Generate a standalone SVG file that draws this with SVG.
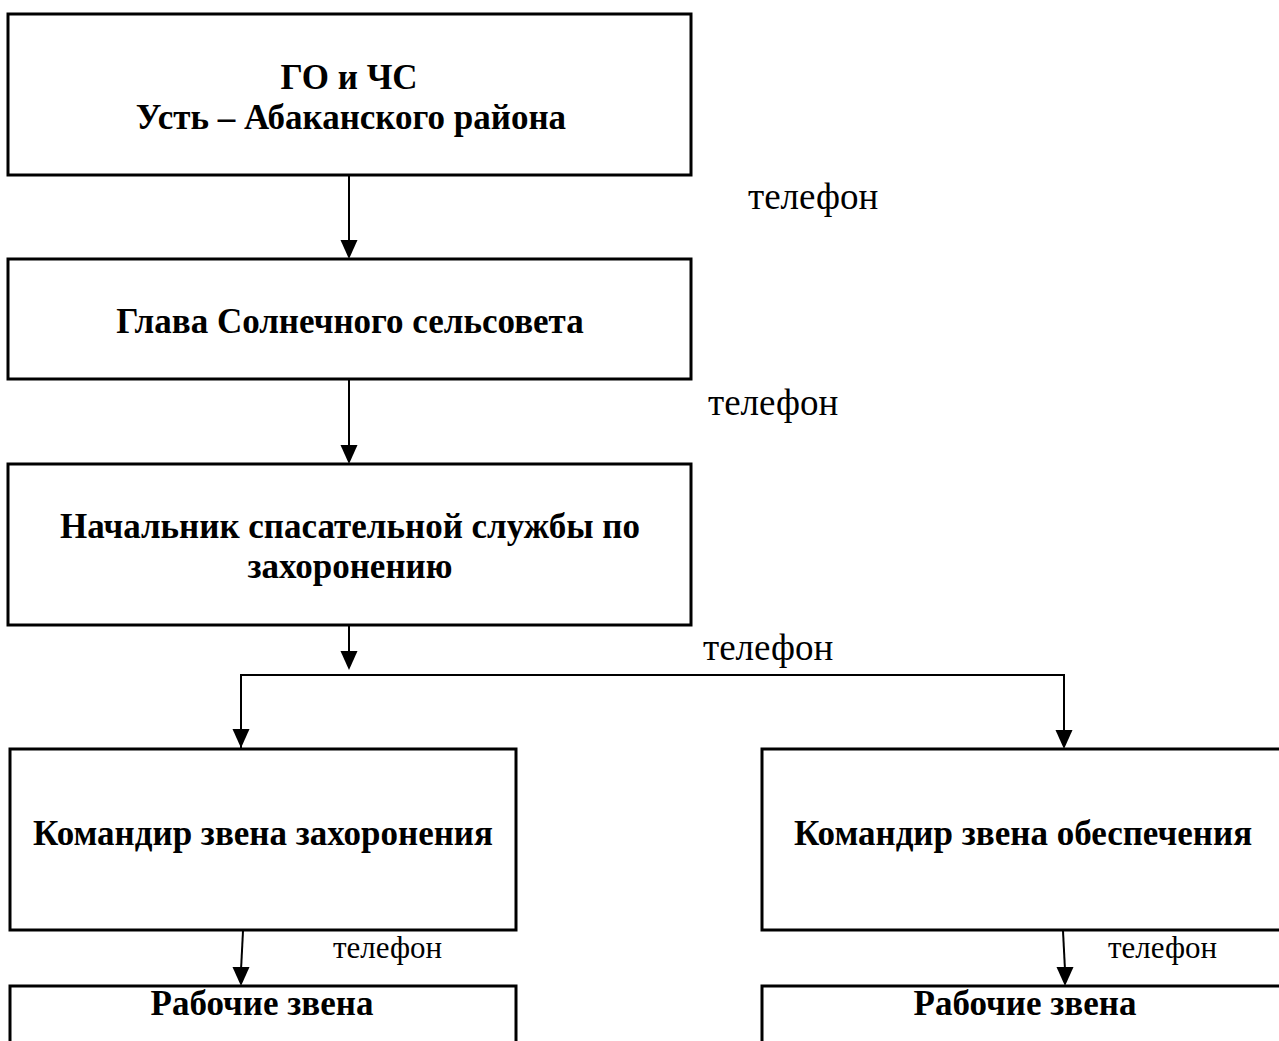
<svg xmlns="http://www.w3.org/2000/svg" width="1279" height="1041" viewBox="0 0 1279 1041">
<style>
.box{fill:#fff;stroke:#000;stroke-width:3}
.t{font-family:"Liberation Serif","Times New Roman",serif;font-weight:bold;font-size:35px;fill:#000;text-anchor:middle}
.lbl{font-family:"Liberation Serif","Times New Roman",serif;font-size:37px;fill:#000}
.sm{font-family:"Liberation Serif","Times New Roman",serif;font-size:31px;fill:#000}
.c{fill:none;stroke:#000;stroke-width:2}
</style>
<rect width="1279" height="1041" fill="#fff"/>
<g id="n1"><rect class="box" x="8" y="14" width="683" height="161"/>
<text class="t" x="349" y="89">ГО и ЧС</text>
<text class="t" x="351" y="129">Усть – Абаканского района</text></g>
<g id="n2"><rect class="box" x="8" y="259" width="683" height="120"/>
<text class="t" x="350" y="333">Глава Солнечного сельсовета</text></g>
<g id="n3"><rect class="box" x="8" y="464" width="683" height="161"/>
<text class="t" x="350" y="538">Начальник спасательной службы по</text>
<text class="t" x="350" y="578">захоронению</text></g>
<g id="n4"><rect class="box" x="10" y="749" width="506" height="181"/>
<text class="t" x="263" y="845">Командир звена захоронения</text></g>
<g id="n5"><rect class="box" x="762" y="749" width="530" height="181"/>
<text class="t" x="1023" y="845">Командир звена обеспечения</text></g>
<g id="n6"><rect class="box" x="10" y="986" width="506" height="80"/>
<text class="t" x="262" y="1015">Рабочие звена</text></g>
<g id="n7"><rect class="box" x="762" y="986" width="530" height="80"/>
<text class="t" x="1025" y="1015">Рабочие звена</text></g>
<g id="connectors">
<line class="c" x1="349" y1="176" x2="349" y2="242"/>
<path d="M340.5,240 L357.5,240 L349,259 Z"/>
<line class="c" x1="349" y1="380" x2="349" y2="447"/>
<path d="M340.5,445 L357.5,445 L349,464 Z"/>
<line class="c" x1="349" y1="626" x2="349" y2="653"/>
<path d="M340.5,651 L357.5,651 L349,670 Z"/>
<path class="c" d="M241,748 L241,675 L1064,675 L1064,732"/>
<path d="M232.5,729 L249.5,729 L241,748 Z"/>
<path d="M1055.5,730 L1072.5,730 L1064,749 Z"/>
<line class="c" x1="243" y1="931" x2="241" y2="970"/>
<path d="M232.5,967 L249.5,967 L241,986 Z"/>
<line class="c" x1="1063" y1="931" x2="1065" y2="970"/>
<path d="M1056.5,967 L1073.5,967 L1065,986 Z"/>
</g>
<text class="lbl" x="748" y="209">телефон</text>
<text class="lbl" x="708" y="415">телефон</text>
<text class="lbl" x="703" y="660">телефон</text>
<text class="sm" x="333" y="958">телефон</text>
<text class="sm" x="1108" y="958">телефон</text>
</svg>
